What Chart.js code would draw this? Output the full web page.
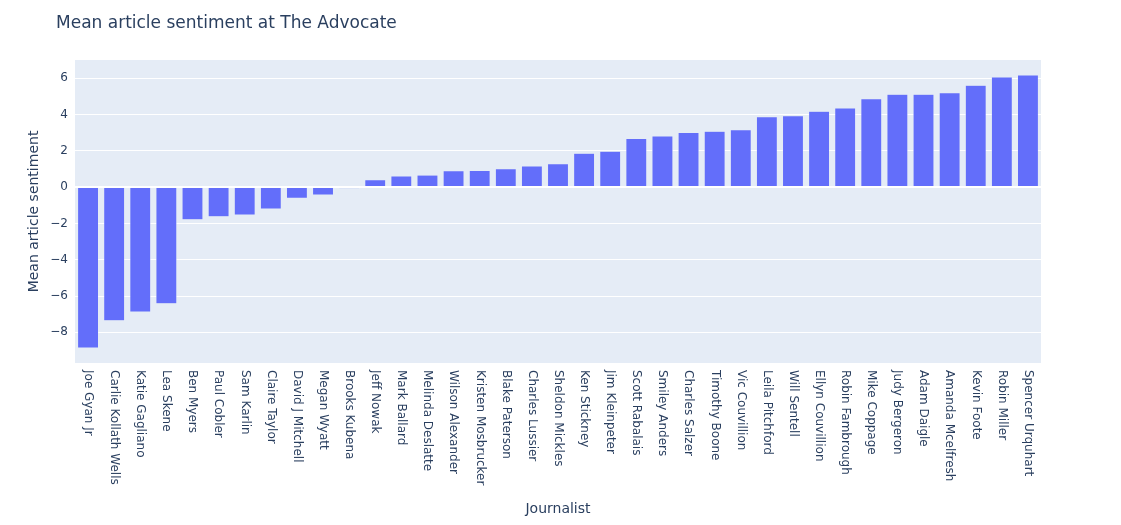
<!DOCTYPE html>
<html>
<head>
<meta charset="utf-8">
<script src="https://cdn.jsdelivr.net/npm/chart.js@4/dist/chart.umd.min.js"></script>
<style>
  body { margin: 0; background: #fff; }
  #wrap { width: 1121px; height: 525px; }
</style>
</head>
<body>
<div id="wrap"><canvas id="chart" width="1121" height="525"></canvas></div>
<script>
    // Journalists, sorted by mean sentiment
    const journalists = [
        'Joe Gyan Jr', 'Carlie Kollath Wells', 'Katie Gagliano', 'Lea Skene', 'Ben Myers',
        'Paul Cobler', 'Sam Karlin', 'Claire Taylor', 'David J Mitchell', 'Megan Wyatt',
        'Brooks Kubena', 'Jeff Nowak', 'Mark Ballard', 'Melinda Deslatte', 'Wilson Alexander',
        'Kristen Mosbrucker', 'Blake Paterson', 'Charles Lussier', 'Sheldon Mickles', 'Ken Stickney',
        'Jim Kleinpeter', 'Scott Rabalais', 'Smiley Anders', 'Charles Salzer', 'Timothy Boone',
        'Vic Couvillion', 'Leila Pitchford', 'Will Sentell', 'Ellyn Couvillion', 'Robin Fambrough',
        'Mike Coppage', 'Judy Bergeron', 'Adam Daigle', 'Amanda Mcelfresh', 'Kevin Foote',
        'Robin Miller', 'Spencer Urquhart'
    ];
    const sentiment = [
        -8.86, -7.36, -6.88, -6.42, -1.80,
        -1.63, -1.54, -1.21, -0.61, -0.44,
        -0.06, 0.40, 0.61, 0.66, 0.90,
        0.92, 1.01, 1.16, 1.28, 1.87,
        1.98, 2.68, 2.81, 3.01, 3.08,
        3.16, 3.87, 3.93, 4.18, 4.35,
        4.86, 5.12, 5.12, 5.19, 5.61,
        6.07, 6.18
    ];
    const yTicks = [-8, -6, -4, -2, 0, 2, 4, 6];

    const chartTitle = 'Mean article sentiment at The Advocate';
    const xTitle = 'Journalist';
    const yTitle = 'Mean article sentiment';
    const textColor = '#2a3f5f';
    const fontFamily = '"DejaVu Sans", verdana, arial, sans-serif';

    // plot background + custom texts (clockwise-rotated x labels, titles)
    const plotlyLook = {
        id: 'plotlyLook',
        beforeDraw(chart) {
            const { ctx, chartArea: a } = chart;
            ctx.save();
            ctx.fillStyle = '#E5ECF6';
            ctx.fillRect(a.left, a.top, a.right - a.left, a.bottom - a.top);
            ctx.restore();
        },
        afterDraw(chart) {
            const { ctx, chartArea: a } = chart;
            const xs = chart.scales.x;
            ctx.save();
            ctx.fillStyle = textColor;

            // x tick labels
            ctx.font = '12px ' + fontFamily;
            ctx.textAlign = 'left';
            ctx.textBaseline = 'middle';
            journalists.forEach((name, i) => {
                const x = xs.getPixelForValue(i);
                ctx.save();
                ctx.translate(x, a.bottom + 7);
                ctx.rotate(Math.PI / 2);
                ctx.fillText(name, 0, 0);
                ctx.restore();
            });

            // chart title
            ctx.font = '17px ' + fontFamily;
            ctx.textBaseline = 'alphabetic';
            ctx.fillText(chartTitle, 56, 28);

            // axis titles
            ctx.font = '14px ' + fontFamily;
            ctx.textAlign = 'center';
            ctx.fillText(xTitle, (a.left + a.right) / 2, 513);
            ctx.save();
            ctx.translate(38, (a.top + a.bottom) / 2);
            ctx.rotate(-Math.PI / 2);
            ctx.fillText(yTitle, 0, 0);
            ctx.restore();

            ctx.restore();
        }
    };

    new Chart(document.getElementById('chart'), {
        type: 'bar',
        data: {
            labels: journalists,
            datasets: [{
                label: 'Mean article sentiment',
                data: sentiment,
                backgroundColor: '#636EFA',
                borderColor: '#E5ECF6',
                borderWidth: 0.5,
                barPercentage: 0.8,
                categoryPercentage: 1.0
            }]
        },
        options: {
            responsive: false,
            animation: false,
            layout: { padding: { left: 0, right: 80, top: 60, bottom: 0 } },
            plugins: {
                legend: { display: false },
                tooltip: { enabled: false }
            },
            scales: {
                x: {
                    ticks: { display: false },
                    grid: { display: false },
                    border: { display: false },
                    afterFit: s => { s.height = 162; }
                },
                y: {
                    min: -9.69,
                    max: 7.0,
                    afterBuildTicks: s => { s.ticks = yTicks.map(v => ({ value: v })); },
                    afterFit: s => { s.width = 75; },
                    ticks: {
                        color: textColor,
                        font: { family: fontFamily, size: 12 },
                        padding: 7,
                        callback: v => String(v).replace('-', '\u2212')
                    },
                    grid: {
                        color: '#ffffff',
                        lineWidth: ctx => (ctx.tick && ctx.tick.value === 0 ? 2 : 1),
                        drawTicks: false
                    },
                    border: { display: false }
                }
            }
        },
        plugins: [plotlyLook]
    });
</script>
</body>
</html>
